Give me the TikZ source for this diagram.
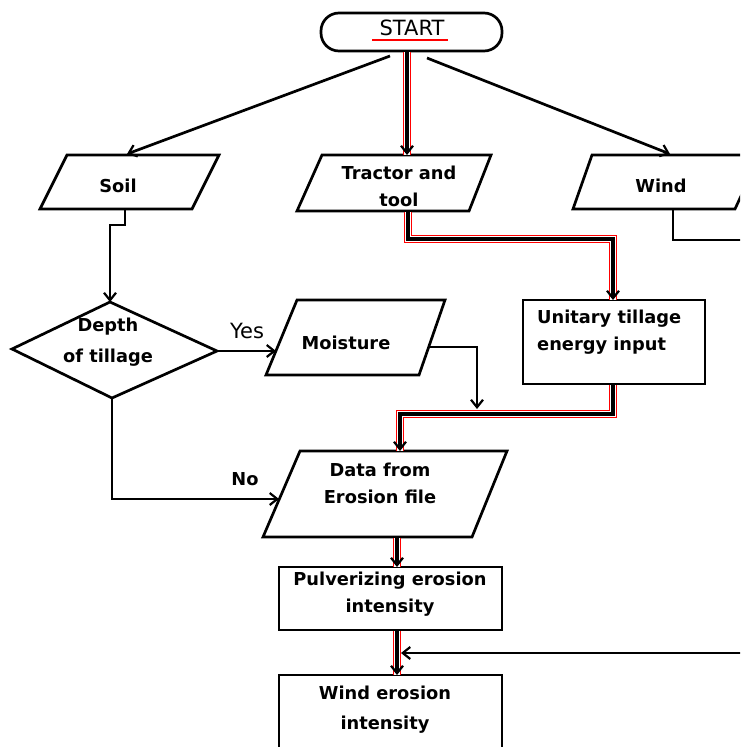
\documentclass[tikz,border=0pt]{standalone}
\usepackage{fontspec}
\setmainfont{DejaVu Sans}
\usetikzlibrary{arrows.meta}
\begin{document}
\begin{tikzpicture}[x=1pt,y=-1pt,
  ln/.style={line width=2.7pt, draw=black},
  tipend/.style={-{Straight Barb[length=7.5pt,width=12pt,line width=2.2pt]}},
  arr/.style={ln, tipend},
  dblarr/.style={draw=red, line width=1.4pt, double=white, double distance=6pt,
     postaction={draw=black, line width=3.2pt, double=none, tipend}},
  dbl/.style={draw=red, line width=1.4pt, double=white, double distance=6pt,
     postaction={draw=black, line width=3.2pt, double=none}},
  outl/.style={line width=2.7pt, draw=black},
  txt/.style={font=\fontsize{17.8}{27}\selectfont\bfseries, inner sep=0pt, align=center},
  lbl/.style={font=\fontsize{21}{23}\selectfont, inner sep=0pt}]
\clip (0,0) rectangle (740,747);
\fill[white] (0,0) rectangle (740,747);

% ---- shapes ----
\draw[outl, rounded corners=18pt] (321,13) rectangle (502,51);
\node[lbl] (start) at (412,28) {START};
\draw[red, line width=2.4pt] (372,40) -- (448,40);

\draw[outl] (67,155) -- (219,155) -- (192,209) -- (40,209) -- cycle;
\node[txt] (soil) at (118,186) {Soil};

\draw[outl] (322,155) -- (491,155) -- (469,211) -- (297,211) -- cycle;
\node[txt] (tractor) at (399,186) {Tractor and\\tool};

\draw[outl] (592,155) -- (760,155) -- (735,209) -- (573,209) -- cycle;
\node[txt] (wind) at (661,186) {Wind};

\draw[outl] (110,302) -- (217,351) -- (112,398) -- (12,349) -- cycle;
\node[txt, font=\fontsize{17.8}{31}\selectfont\bfseries] (depth) at (108,342) {Depth\\of tillage};

\draw[outl] (297,300) -- (445,300) -- (419,375) -- (266,375) -- cycle;
\node[txt] (moist) at (346,343) {Moisture};

\draw[outl] (523,300) rectangle (705,384);
\node[txt, anchor=west, align=left] (unit) at (537,332) {Unitary tillage\\energy input};

\draw[outl] (300,451) -- (507,451) -- (472,537) -- (263,537) -- cycle;
\node[txt] (data) at (380,483) {Data from\\Erosion file};

\draw[outl] (279,567) rectangle (502,630);
\node[txt] (pulv) at (390,594) {Pulverizing erosion\\intensity};

\draw[outl] (279,675) rectangle (502,760);
\node[txt, font=\fontsize{17.8}{30}\selectfont\bfseries] (werosion) at (385,710) {Wind erosion\\intensity};

% ---- labels ----
\node[lbl] (yes) at (247,331) {Yes};
\node[txt] (no) at (245,479) {No};

% ---- connector points ----
\coordinate (s1) at (390,56);
\coordinate (s2) at (427,58);
\coordinate (s3) at (407,52);
\coordinate (soilT) at (127,154);
\coordinate (windT) at (670,154);
\coordinate (tracT) at (407,155);
\coordinate (tracB) at (408,212);
\coordinate (soilB) at (125,210);
\coordinate (diaT) at (110,302);
\coordinate (diaR) at (217,351);
\coordinate (diaB) at (112,398);
\coordinate (moistL) at (276,351);
\coordinate (moistR) at (428,347);
\coordinate (unitT) at (613,300);
\coordinate (unitB) at (613,385);
\coordinate (dataT) at (400,451);
\coordinate (dataL) at (279,499);
\coordinate (dataB) at (397,538);
\coordinate (pulvT) at (397,567);
\coordinate (pulvB) at (397,631);
\coordinate (werT) at (397,675);
\coordinate (windB) at (673,210);
\coordinate (offA) at (760,240);
\coordinate (offB) at (760,653);
\coordinate (back) at (401,653);

% ---- connectors ----
\draw[arr] (s1) -- (soilT);
\draw[arr] (s2) -- (windT);
\draw[dblarr] (s3) -- (tracT);
\draw[arr] (soilB) -- (125,225) -- (110,225) -- (diaT);
\draw[arr] (diaR) -- (moistL);
\draw[dblarr] (tracB) -- (408,239) -- (613,239) -- (unitT);
\draw[dblarr] (unitB) -- (613,414) -- (400,414) -- (dataT);
\draw[arr] (moistR) -- (477,347) -- (477,409);
\draw[arr] (diaB) -- (112,499) -- (dataL);
\draw[dblarr] (dataB) -- (pulvT);
\draw[dblarr] (pulvB) -- (werT);
\draw[ln] (windB) -- (673,240) -- (offA);
\draw[arr] (offB) -- (back);
\end{tikzpicture}
\end{document}
